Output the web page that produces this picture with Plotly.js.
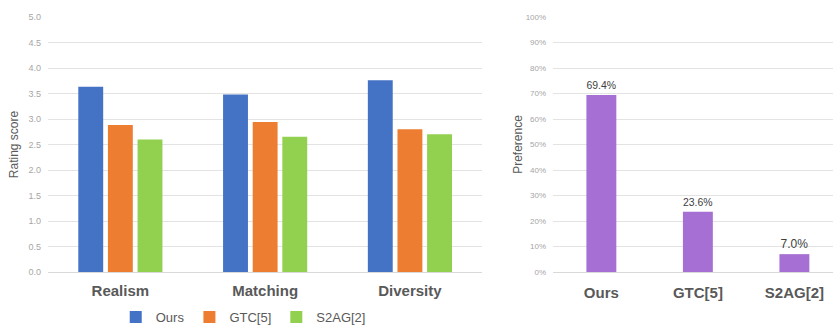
<!DOCTYPE html>
<html><head><meta charset="utf-8">
<script src="https://cdn.plot.ly/plotly-3.0.1.min.js"></script>
<style>html,body{margin:0;padding:0;background:#fff}#c{width:833px;height:327px}</style>
</head><body><div id="c"></div>
<script>
const categories = ["Realism", "Matching", "Diversity"];
const ours = [3.63, 3.48, 3.76];
const gtc = [2.88, 2.94, 2.80];
const s2ag = [2.60, 2.65, 2.70];
const prefMethods = ["Ours", "GTC[5]", "S2AG[2]"];
const prefValues = [0.694, 0.236, 0.070];
const prefLabels = ["69.4%", "23.6%", "7.0%"];

const F = "Liberation Sans, Arial, sans-serif";
const traces = [
  {type:"bar", x:categories, y:ours, name:"Ours", marker:{color:"#4472C4"}, xaxis:"x", yaxis:"y"},
  {type:"bar", x:categories, y:gtc, name:"GTC[5]", marker:{color:"#ED7D31"}, xaxis:"x", yaxis:"y"},
  {type:"bar", x:categories, y:s2ag, name:"S2AG[2]", marker:{color:"#92D050"}, xaxis:"x", yaxis:"y"},
  {type:"bar", x:prefMethods, y:prefValues, name:"Preference", marker:{color:"#A66FD3"},
   text:prefLabels, textposition:"outside", textfont:{family:F, size:12, color:"#404040"},
   cliponaxis:false, width:0.31, offset:-0.155, showlegend:false, xaxis:"x2", yaxis:"y2"}
];
const tickFont = {family:F, size:9, color:"#a6a6a6"};
const catFont = {family:F, size:15, color:"#595959", weight:"bold"};
const layout = {
  width:833, height:327, margin:{l:0,r:0,t:17,b:55,autoexpand:false},
  paper_bgcolor:"#fff", plot_bgcolor:"#fff",
  barmode:"group", bargap:0.386, bargroupgap:0.16,
  font:{family:F},
  xaxis:{domain:[0.0576,0.579], range:[-0.5,2.5], tickfont:catFont, showgrid:false,
         ticks:"", showline:false, zeroline:false, automargin:false, ticklabelstandoff:8},
  yaxis:{domain:[0,1], range:[0,5], dtick:0.5, tickformat:".1f", tickfont:tickFont,
         gridcolor:"#e3e3e3", zeroline:true, zerolinecolor:"#d9d9d9", zerolinewidth:1, automargin:false,
         ticklabelstandoff:6, title:{text:"Rating score", font:{family:F, size:12, color:"#595959"}, standoff:7}},
  xaxis2:{domain:[0.664,1.0], range:[-0.5,2.4], tickfont:catFont, showgrid:false,
          ticks:"", showline:false, zeroline:false, anchor:"y2", automargin:false, ticklabelstandoff:10},
  yaxis2:{domain:[0,1], range:[0,1], dtick:0.1, tickformat:".0%", tickfont:{family:F, size:8, color:"#a6a6a6"},
          gridcolor:"#e3e3e3", zeroline:true, zerolinecolor:"#d9d9d9", zerolinewidth:1, anchor:"x2", automargin:false,
          ticklabelstandoff:6, title:{text:"Preference", font:{family:F, size:12, color:"#595959"}, standoff:0}},
  showlegend:true,
  legend:{orientation:"h", x:0.292, xanchor:"center", y:-0.177, yanchor:"middle",
          bgcolor:"rgba(0,0,0,0)",
          font:{family:F, size:13, color:"#595959"}, itemwidth:30, traceorder:"normal"}
};
Plotly.newPlot("c", traces, layout, {displayModeBar:false, staticPlot:true});
</script></body></html>
